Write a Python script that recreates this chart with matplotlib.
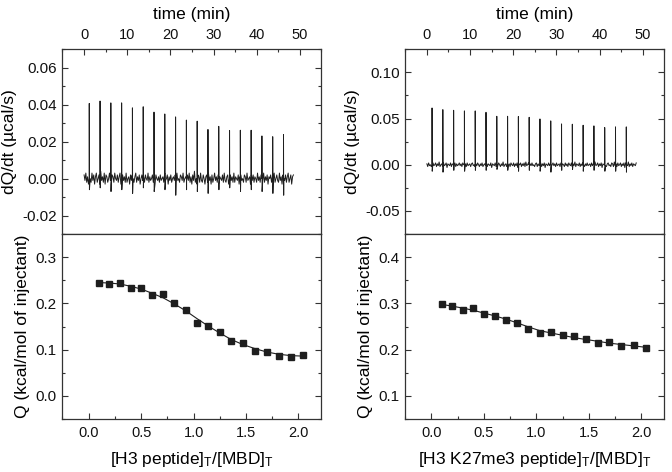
import numpy as np
import matplotlib
matplotlib.use('Agg')
import matplotlib.pyplot as plt
from matplotlib.ticker import MultipleLocator

plt.rcParams['font.family'] = ['Liberation Sans', 'DejaVu Sans']
plt.rcParams['mathtext.fontset'] = 'custom'
plt.rcParams['mathtext.rm'] = 'Liberation Sans'
plt.rcParams['mathtext.it'] = 'Liberation Sans:italic'

# injection times (min)
inj_time = [1.2, 3.7, 6.2, 8.7, 11.2, 13.7, 16.2, 18.7, 21.2, 23.7,
            26.2, 28.7, 31.2, 33.7, 36.2, 38.7, 41.2, 43.7, 46.2]

# H3 peptide: raw peaks and undershoots (ucal/s)
h3_peak = [0.0407, 0.0420, 0.0410, 0.0410, 0.0383, 0.0389, 0.0360, 0.0350, 0.0334, 0.0317,
           0.0311, 0.0266, 0.0283, 0.0260, 0.0262, 0.0262, 0.0231, 0.0227, 0.0238]
h3_dip = [-0.006, -0.005, -0.007, -0.006, -0.008, -0.005, -0.007, -0.006, -0.009, -0.006,
          -0.007, -0.008, -0.006, -0.005, -0.007, -0.006, -0.007, -0.008, -0.009]
# baseline noise (x 1e-3 ucal/s)
h3_noise = [2, -1, 3, -2, 1, -3, 2, 0, -2, 3, -1, 2, -3, 1, 3, -2, 0, 2, -3, 4,
            -1, 1, -2, 3, -3, 2, 1, -2, 0, 3, -1, -3, 2, 1, -2, 3, 0, -1, 2, -2,
            1, 3, -3, 0, 2, -1, 1, -2, 3, -2, 0, 1, -3, 2, -1, 2, 0, -2, 1, 3,
            -2, 1, -1, 2, -3, 0, 2, -1, 1, -2, 2, 0, -1, 3, -2, 1, -1, 0, 2, -2,
            1, -3, 2, 0, -1, 1, -2, 2, -1, 0, 1, -2, 3, -1, 0, 2, -3, 1, -1, 2,
            -2, 0, 1, -1, 2, -2, 3, -1, 0, -2, 2, 1, -1, 3, -2, 0, 1, -1, 2, -1,
            3, -2, 1, -3, 2, -1, 4, -2, 0, -3, 2, 1, -2, 3, -1, -2, 2, 0, -3, 1,
            2, -2, 3, -1, 1, -3, 2, -2, 0, 3, -1, 1, -2, 2, -3, 1, 0, -1, 2, -2,
            3, -1, -2, 1, 2, -3, 0, 2, -1, 1, -2, 3, -2, 1, 0, -1, 2, -3, 1, 2,
            -1, 0, -2, 2, 1, -2, 3, -1, 0, 1, -3, 2, -1, 2, -2, 1, 0, -2, 3, -1,
            1, -2, 2, 0, -1, 3, -2, 1, -1, 2, -3, 1, 0, 2, -2, 1, -1, 3, -2, 0,
            2, -1, -2, 3, -1, 1, -3, 2, 0, -1, 2, -2, 1, 3, -2, 0, 2, -3, 1, 2]

# H3 K27me3 peptide
k27_peak = [0.0615, 0.0597, 0.0590, 0.0583, 0.0583, 0.0568, 0.0525, 0.0525, 0.0522, 0.0514,
            0.0496, 0.0475, 0.0442, 0.0439, 0.0428, 0.0421, 0.0403, 0.0410, 0.0410]
k27_dip = [-0.007, -0.008, -0.006, -0.007, -0.006, -0.006, -0.005, -0.006, -0.007, -0.006,
           -0.007, -0.008, -0.006, -0.005, -0.007, -0.006, -0.007, -0.007, -0.008]
k27_noise = [1, -2, 2, -1, 0, -2, 1, 2, -1, 0, 2, -2, 1, -1, 3, -2, 0, 1, -2, 2,
             -1, 0, 2, -3, 1, 0, -1, 2, -2, 1, 0, -1, 2, -2, 1, -1, 0, 2, -1, 1,
             -2, 2, 0, -1, 1, -2, 2, -1, 0, 1, -2, 1, 2, -1, 0, -2, 1, -1, 2, 0,
             -2, 1, -1, 2, -2, 0, 1, -1, 2, -2, 1, 0, -1, 2, -3, 1, 0, -1, 2, -2,
             1, -1, 2, 0, -2, 1, -1, 3, -2, 0, 1, -2, 2, -1, 1, -2, 2, 0, -1, 2,
             -2, 1, -1, 2, -3, 1, 0, 2, -2, 1, -1, 2, -2, 3, -1, 0, 2, -2, 1, -1,
             2, -1, 0, -2, 1, 2, -2, 1, -1, 0, 2, -2, 1, -1, 2, -3, 1, 0, -1, 2,
             -1, 1, -2, 0, 2, -1, 1, -2, 2, -1, 0, 1, -2, 2, -1, 1, 0, -2, 2, -1,
             1, -2, 2, 0, -1, 2, -2, 1, -1, 3, -2, 1, 0, -1, 2, -2, 1, -1, 2, 0,
             -2, 1, -1, 2, -1, 0, 1, -2, 2, -1, 1, -2, 3, -1, 0, 2, -2, 1, -1, 2,
             -3, 1, 0, 2, -1, -2, 1, 2, -1, 0, -2, 2, 1, -2, 3, -1, 1, -2, 2, -1,
             0, 2, -2, 1, -1, 2, -3, 2, 0, -1, 3, -2, 1, -1, 2, -2, 1, 0, -1, 2]

# integrated heats
ratio = [0.097, 0.196, 0.296, 0.400, 0.500, 0.604, 0.710, 0.815, 0.925, 1.033,
         1.140, 1.250, 1.358, 1.470, 1.588, 1.696, 1.812, 1.930, 2.045]
h3_q = [0.244, 0.242, 0.244, 0.234, 0.234, 0.218, 0.220, 0.201, 0.185, 0.158,
        0.151, 0.138, 0.118, 0.114, 0.097, 0.095, 0.087, 0.084, 0.088]
h3_fit = [0.245, 0.244, 0.242, 0.237, 0.231, 0.222, 0.212, 0.199, 0.184, 0.167,
          0.151, 0.136, 0.122, 0.111, 0.102, 0.095, 0.090, 0.087, 0.086]
k27_q = [0.298, 0.294, 0.285, 0.290, 0.276, 0.272, 0.264, 0.258, 0.244, 0.237,
         0.238, 0.231, 0.229, 0.222, 0.215, 0.217, 0.208, 0.210, 0.203]
k27_fit = [0.298, 0.294, 0.290, 0.285, 0.279, 0.273, 0.266, 0.258, 0.249, 0.241,
           0.236, 0.231, 0.226, 0.222, 0.218, 0.214, 0.211, 0.208, 0.205]

T_END = 48.5
INK = '#1e1e1e'
SPINE = '#333333'


def build_trace(noise, peaks, dips):
    t = list(np.linspace(0, T_END, len(noise)))
    y = [v * 1e-3 for v in noise]
    for ti, p, d in zip(inj_time, peaks, dips):
        t += [ti - 0.01, ti, ti + 0.04]
        y += [0.0, p, d]
    order = np.argsort(t, kind='stable')
    return np.array(t)[order], np.array(y)[order]


def style(ax, top):
    for s in ax.spines.values():
        s.set_color(SPINE)
        s.set_linewidth(0.9)
    ax.tick_params(which='both', direction='in', colors=SPINE, labelcolor='#111111',
                   left=True, right=True, width=0.8)
    ax.tick_params(which='major', length=4)
    ax.tick_params(which='minor', length=2.2)
    ax.tick_params(axis='y', labelsize=11, pad=4)
    ax.tick_params(axis='x', labelsize=10.5, pad=5)
    if top:
        ax.tick_params(axis='x', which='both', top=True, bottom=False,
                       labeltop=True, labelbottom=False)
        ax.xaxis.set_label_position('top')
    else:
        ax.tick_params(axis='x', which='both', top=False, bottom=True)


fig = plt.figure(figsize=(6.72, 4.72), dpi=100)

panels = [
    (0.0930, h3_noise, h3_peak, h3_dip, (-0.03, 0.07), 0.02, 0.01,
     h3_q, h3_fit, (-0.05, 0.35), r'[H3 peptide]$_\mathrm{T}$/[MBD]$_\mathrm{T}$'),
    (0.6031, k27_noise, k27_peak, k27_dip, (-0.075, 0.125), 0.05, 0.025,
     k27_q, k27_fit, (0.05, 0.45), r'[H3 K27me3 peptide]$_\mathrm{T}$/[MBD]$_\mathrm{T}$'),
]

for x0, noise, peaks, dips, ylim_top, ymaj, ymin, q, fit, ylim_bot, xlab in panels:
    w = 0.3854
    ax1 = fig.add_axes([x0, 0.5042, w, 0.3913])
    ax2 = fig.add_axes([x0, 0.1123, w, 0.3919])

    t, y = build_trace(noise, peaks, dips)
    ax1.plot(t, y, color=INK, lw=0.7)
    ax1.set_xlim(-5, 55)
    ax1.set_ylim(*ylim_top)
    ax1.xaxis.set_major_locator(MultipleLocator(10))
    ax1.xaxis.set_minor_locator(MultipleLocator(5))
    ax1.yaxis.set_major_locator(MultipleLocator(ymaj))
    ax1.yaxis.set_minor_locator(MultipleLocator(ymin))
    ax1.yaxis.set_major_formatter(lambda v, pos: '%.2f' % v if abs(v) > 1e-9 else '0.00')
    style(ax1, True)
    ax1.set_xlabel('time (min)', fontsize=12.5, labelpad=7)
    ax1.set_ylabel('dQ/dt (µcal/s)', fontsize=12.5, labelpad=4)

    ax2.plot(ratio, fit, color=INK, lw=0.8)
    ax2.plot(ratio, q, 's', color=INK, ms=5)
    ax2.set_xlim(-0.25, 2.22)
    ax2.set_ylim(*ylim_bot)
    ax2.xaxis.set_major_locator(MultipleLocator(0.5))
    ax2.xaxis.set_minor_locator(MultipleLocator(0.25))
    ax2.yaxis.set_major_locator(MultipleLocator(0.1))
    ax2.yaxis.set_minor_locator(MultipleLocator(0.05))
    ax2.yaxis.set_major_formatter(lambda v, pos: '%.1f' % v if abs(v) > 1e-9 else '0.0')
    style(ax2, False)
    ax2.set_xlabel(xlab, fontsize=12.5, labelpad=7)
    ax2.set_ylabel('Q (kcal/mol of injectant)', fontsize=12.5, labelpad=4)

fig.savefig('out.png', dpi=100)
